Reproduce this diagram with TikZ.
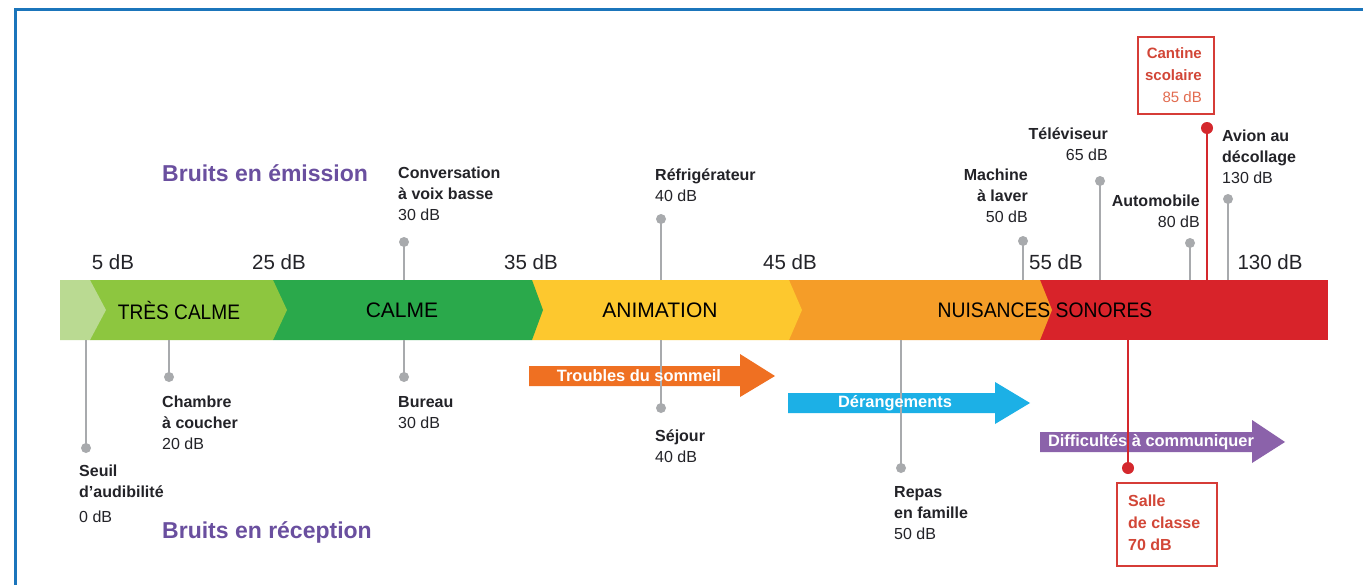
\documentclass[tikz,border=0pt]{standalone}
\usepackage{fontspec}
\setmainfont{Liberation Sans}
\usepackage{graphicx}
\definecolor{frameblue}{RGB}{27,117,187}
\definecolor{lgreen}{RGB}{186,218,146}
\definecolor{ygreen}{RGB}{141,198,63}
\definecolor{dgreen}{RGB}{42,169,75}
\definecolor{byellow}{RGB}{253,200,46}
\definecolor{borange}{RGB}{245,157,40}
\definecolor{bred}{RGB}{216,35,42}
\definecolor{arrorange}{RGB}{239,112,34}
\definecolor{arrblue}{RGB}{28,176,230}
\definecolor{arrpurple}{RGB}{139,98,170}
\definecolor{headpurple}{RGB}{106,79,159}
\definecolor{pingray}{RGB}{168,170,173}
\definecolor{pinred}{RGB}{212,40,45}
\definecolor{boxred}{RGB}{214,60,55}
\definecolor{txtred}{RGB}{210,70,55}
\definecolor{txtorange}{RGB}{226,108,80}
\definecolor{txtdark}{RGB}{35,35,40}
\begin{document}
\begin{tikzpicture}[x=1pt,y=-1pt,
  dot/.style={circle,fill=pingray,inner sep=0,minimum size=10pt},
  reddot/.style={circle,fill=pinred,inner sep=0,minimum size=12pt},
  stem/.style={draw=pingray,line width=2.4pt},
  redstem/.style={draw=pinred,line width=2.4pt},
  lbl/.style={inner sep=0,font=\fontsize{16}{21}\selectfont,text=txtdark,align=left,anchor=north west},
  lblr/.style={lbl,align=right,anchor=north east},
  dbl/.style={inner sep=0,font=\fontsize{20.5}{24}\selectfont,text=txtdark},
  bandtxt/.style={inner sep=0,font=\fontsize{21}{24}\selectfont,text=black},
  heading/.style={inner sep=0,font=\bfseries\fontsize{23}{26}\selectfont,text=headpurple,anchor=west},
  arrtxt/.style={inner sep=0,font=\bfseries\fontsize{16.4}{18}\selectfont,text=white},
  redbox/.style={draw=boxred,line width=2pt,inner sep=0}
]
\useasboundingbox (0,0) rectangle (1363,584);
\fill[white] (0,0) rectangle (1363,584);
% frame
\draw[frameblue,line width=3pt] (15,586) -- (15,9) -- (1365,9);

% band (right to left)
\fill[bred] (1040,280) rectangle (1328,340);
\fill[borange] (789,280) -- (1040,280) -- (1052,310) -- (1040,340) -- (789,340) -- cycle;
\fill[byellow] (532,280) -- (789,280) -- (802,310) -- (789,340) -- (532,340) -- cycle;
\fill[dgreen] (273,280) -- (532,280) -- (543,310) -- (532,340) -- (273,340) -- cycle;
\fill[ygreen] (90,280) -- (273,280) -- (287,310) -- (273,340) -- (90,340) -- cycle;
\fill[lgreen] (60,280) -- (90,280) -- (106,310) -- (90,340) -- (60,340) -- cycle;

\node[bandtxt] (tres) at (179,310) {\scalebox{0.91}[1]{TRÈS CALME}};
\node[bandtxt] (calme) at (402,310) {CALME};
\node[bandtxt] (anim) at (660,310) {ANIMATION};
\node[bandtxt] (nuis) at (1045,310) {\scalebox{0.92}[1]{NUISANCES SONORES}};

% dB scale
\node[dbl] (db5) at (113,262) {5 dB};
\node[dbl] (db25) at (279,262) {25 dB};
\node[dbl] (db35) at (531,262) {35 dB};
\node[dbl] (db45) at (790,262) {45 dB};
\node[dbl] (db55) at (1056,262) {55 dB};
\node[dbl] (db130) at (1270,262) {130 dB};

% effect arrows
\fill[arrorange] (529,366) -- (740,366) -- (740,354) -- (775,376) -- (740,397) -- (740,386) -- (529,386) -- cycle;
\fill[arrblue] (788,393) -- (995,393) -- (995,382) -- (1030,403) -- (995,424) -- (995,413) -- (788,413) -- cycle;
\fill[arrpurple] (1040,432) -- (1252,432) -- (1252,420) -- (1285,442) -- (1252,463) -- (1252,452) -- (1040,452) -- cycle;

% band anchor coordinates
\coordinate (tConv) at (404,280);
\coordinate (tRef) at (661,280);
\coordinate (tMach) at (1023,280);
\coordinate (tTele) at (1100,280);
\coordinate (tAuto) at (1190,280);
\coordinate (tCant) at (1207,280);
\coordinate (tAvion) at (1228,280);
\coordinate (bSeuil) at (86,340);
\coordinate (bChamb) at (169,340);
\coordinate (bBur) at (404,340);
\coordinate (bSej) at (661,340);
\coordinate (bRepas) at (901,340);
\coordinate (bSalle) at (1128,340);

% dots
\node[dot] (dConv) at (404,242) {};
\node[dot] (dRef) at (661,219) {};
\node[dot] (dMach) at (1023,241) {};
\node[dot] (dTele) at (1100,181) {};
\node[dot] (dAuto) at (1190,243) {};
\node[reddot] (dCant) at (1207,128) {};
\node[dot] (dAvion) at (1228,199) {};
\node[dot] (dSeuil) at (86,448) {};
\node[dot] (dChamb) at (169,377) {};
\node[dot] (dBur) at (404,377) {};
\node[dot] (dSej) at (661,408) {};
\node[dot] (dRepas) at (901,468) {};
\node[reddot] (dSalle) at (1128,468) {};

% stems
\draw[stem] (tConv) -- (dConv.center);
\draw[stem] (tRef) -- (dRef.center);
\draw[stem] (tMach) -- (dMach.center);
\draw[stem] (tTele) -- (dTele.center);
\draw[stem] (tAuto) -- (dAuto.center);
\draw[redstem] (tCant) -- (dCant.center);
\draw[stem] (tAvion) -- (dAvion.center);
\draw[stem] (bSeuil) -- (dSeuil.center);
\draw[stem] (bChamb) -- (dChamb.center);
\draw[stem] (bBur) -- (dBur.center);
\draw[stem] (bSej) -- (dSej.center);
\draw[stem] (bRepas) -- (dRepas.center);
\draw[redstem] (bSalle) -- (dSalle.center);

% arrow texts
\node[arrtxt] (troubles) at (639,376) {Troubles du sommeil};
\node[arrtxt] (derang) at (895,403) {Dérangements};
\node[arrtxt] (diffic) at (1151,442) {Difficultés à communiquer};

% headings
\node[heading] (emission) at (162,173) {Bruits en émission};
\node[heading] (reception) at (162,532) {Bruits en réception};

% labels above
\node[lbl] (lConv) at (398,167) {\textbf{Conversation}\\\textbf{à voix basse}\\30 dB};
\node[lbl] (lRef) at (655,169) {\textbf{Réfrigérateur}\\40 dB};
\node[lblr] (lMach) at (1028,169) {\textbf{Machine}\\\textbf{à laver}\\50 dB};
\node[lblr] (lTele) at (1108,128) {\textbf{Téléviseur}\\65 dB};
\node[lblr] (lAuto) at (1200,195) {\textbf{Automobile}\\80 dB};
\node[lbl] (lAvion) at (1222,130) {\textbf{Avion au}\\\textbf{décollage}\\130 dB};
\node[redbox,minimum width=76pt,minimum height=77pt] (cantBox) at (1176,75.5) {};
\node[lblr,text=txtred,font=\fontsize{15}{22}\selectfont] (lCant) at (1202,47) {\textbf{Cantine}\\\textbf{scolaire}\\\textcolor{txtorange}{85 dB}};

% labels below
\node[lbl] (lSeuil) at (79,465) {\textbf{Seuil}\\\textbf{d'audibilité}\\[4pt]0 dB};
\node[lbl] (lChamb) at (162,396) {\textbf{Chambre}\\\textbf{à coucher}\\20 dB};
\node[lbl] (lBur) at (398,396) {\textbf{Bureau}\\30 dB};
\node[lbl] (lSej) at (655,430) {\textbf{Séjour}\\40 dB};
\node[lbl] (lRepas) at (894,486) {\textbf{Repas}\\\textbf{en famille}\\50 dB};
\node[redbox,minimum width=100pt,minimum height=83pt] (salleBox) at (1167,524) {};
\node[lbl,text=txtred,font=\bfseries\fontsize{16}{22}\selectfont] (lSalle) at (1128,495) {Salle\\de classe\\70 dB};
\end{tikzpicture}
\end{document}
